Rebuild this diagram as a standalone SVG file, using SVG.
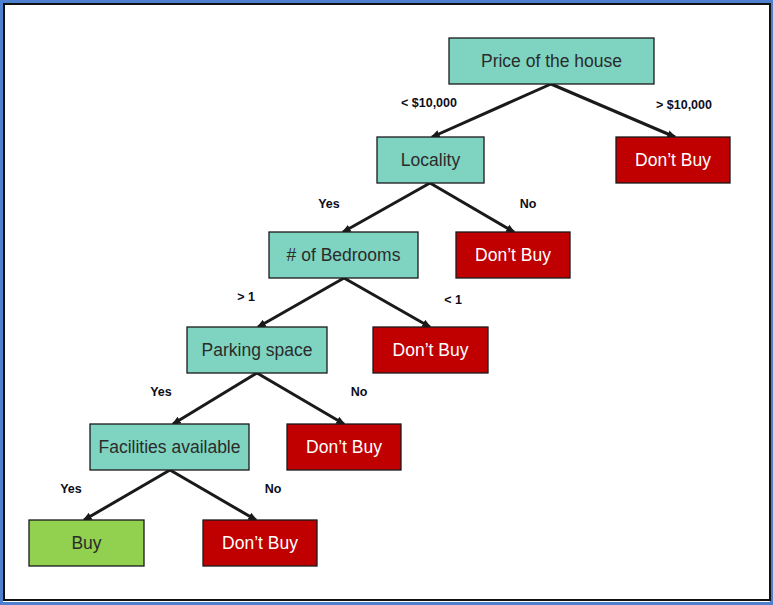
<svg xmlns="http://www.w3.org/2000/svg" width="773" height="605" viewBox="0 0 773 605">
<defs>
<marker id="ah" viewBox="0 0 10 10" refX="8" refY="5" markerWidth="3.2" markerHeight="3.2" orient="auto" markerUnits="strokeWidth">
<path d="M0,1 L10,5 L0,9 Z" fill="#1a1a1a"/>
</marker>
</defs>
<style>
.teal{fill:#7fd4c1;stroke:#1a1a1a;stroke-width:1.3}
.red{fill:#c00000;stroke:#1a1a1a;stroke-width:1.3}
.green{fill:#92d050;stroke:#1a1a1a;stroke-width:1.3}
.t{font-family:"Liberation Sans",Arial,sans-serif;font-size:17.5px;text-anchor:middle;dominant-baseline:central}
.dk{fill:#2b2b2b}
.wt{fill:#ffffff}
.lbl{font-family:"Liberation Sans",Arial,sans-serif;font-size:12.5px;font-weight:bold;fill:#0d0d1a;text-anchor:middle;dominant-baseline:central}
.c{stroke:#1a1a1a;stroke-width:3;fill:none;marker-end:url(#ah)}
</style>
<rect x="0" y="0" width="773" height="605" fill="#ffffff"/>
<rect x="1.5" y="1.5" width="770" height="602" fill="none" stroke="#4f7fcf" stroke-width="3"/>
<rect x="4" y="4" width="766" height="596" fill="none" stroke="#111111" stroke-width="2"/>
<g id="connectors">
<line class="c" x1="551" y1="84" x2="432" y2="137"/>
<line class="c" x1="551" y1="84" x2="675" y2="137"/>
<line class="c" x1="430" y1="183" x2="343" y2="232"/>
<line class="c" x1="430" y1="183" x2="514" y2="232"/>
<line class="c" x1="344" y1="278" x2="258" y2="327"/>
<line class="c" x1="344" y1="278" x2="430" y2="327"/>
<line class="c" x1="257" y1="373" x2="173" y2="424"/>
<line class="c" x1="257" y1="373" x2="344" y2="424"/>
<line class="c" x1="170" y1="470" x2="84" y2="520"/>
<line class="c" x1="170" y1="470" x2="256" y2="520"/>
<text class="lbl" x="429" y="103">&lt; $10,000</text>
<text class="lbl" x="684" y="105">&gt; $10,000</text>
<text class="lbl" x="329" y="204">Yes</text>
<text class="lbl" x="528" y="204">No</text>
<text class="lbl" x="246" y="297">&gt; 1</text>
<text class="lbl" x="453" y="300">&lt; 1</text>
<text class="lbl" x="161" y="392">Yes</text>
<text class="lbl" x="359" y="392">No</text>
<text class="lbl" x="71" y="489">Yes</text>
<text class="lbl" x="273" y="489">No</text>
</g>
<g id="price"><rect class="teal" x="449" y="38" width="205" height="46"/><text class="t dk" x="551.5" y="61">Price of the house</text></g>
<g id="locality"><rect class="teal" x="377" y="137" width="107" height="46"/><text class="t dk" x="430.5" y="160">Locality</text></g>
<g id="dontbuy1"><rect class="red" x="616" y="137" width="114" height="46"/><text class="t wt" x="673" y="160">Don’t Buy</text></g>
<g id="bedrooms"><rect class="teal" x="269" y="232" width="149" height="46"/><text class="t dk" x="343.5" y="255">#  of Bedrooms</text></g>
<g id="dontbuy2"><rect class="red" x="456" y="232" width="114" height="46"/><text class="t wt" x="513" y="255">Don’t Buy</text></g>
<g id="parking"><rect class="teal" x="187" y="327" width="140" height="46"/><text class="t dk" x="257" y="350">Parking space</text></g>
<g id="dontbuy3"><rect class="red" x="373" y="327" width="115" height="46"/><text class="t wt" x="430.5" y="350">Don’t Buy</text></g>
<g id="facilities"><rect class="teal" x="90" y="424" width="159" height="46"/><text class="t dk" x="169.5" y="447">Facilities available</text></g>
<g id="dontbuy4"><rect class="red" x="287" y="424" width="114" height="46"/><text class="t wt" x="344" y="447">Don’t Buy</text></g>
<g id="buy"><rect class="green" x="29" y="520" width="115" height="46"/><text class="t dk" x="86.5" y="543">Buy</text></g>
<g id="dontbuy5"><rect class="red" x="203" y="520" width="114" height="46"/><text class="t wt" x="260" y="543">Don’t Buy</text></g>
</svg>
